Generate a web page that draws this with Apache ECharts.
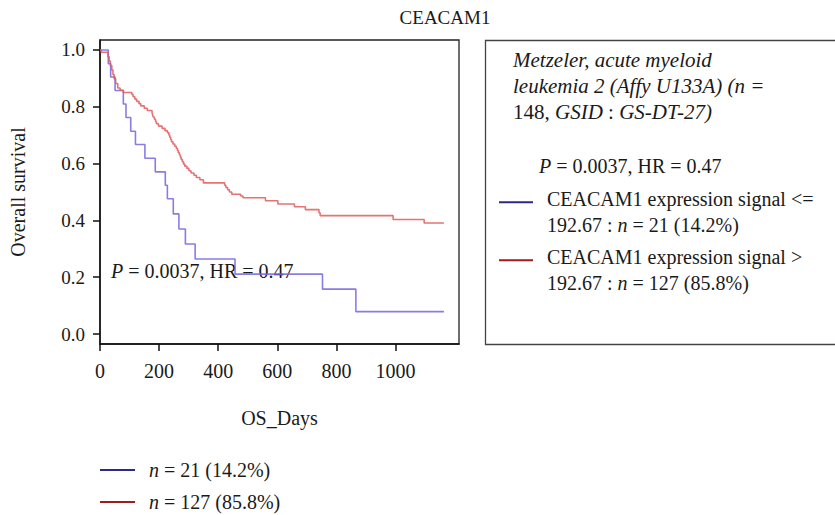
<!DOCTYPE html>
<html>
<head>
<meta charset="utf-8">
<script src="https://cdn.jsdelivr.net/npm/echarts@6/dist/echarts.min.js"></script>
<style>
  html, body { margin: 0; padding: 0; background: #fff; }
  #chart { width: 835px; height: 515px; }
</style>
</head>
<body>
<div id="chart"></div>
<script>
// Kaplan–Meier survival, CEACAM1 expression split at 192.67
const lowDays  = [0, 28, 36, 51, 79, 88, 104, 120, 152, 187, 221, 228, 248, 267, 289, 322, 457, 753, 866, 1164];
const lowSurv  = [1, 0.952, 0.905, 0.857, 0.810, 0.762, 0.714, 0.667, 0.619, 0.571, 0.524, 0.476, 0.423, 0.370, 0.317, 0.264, 0.211, 0.158, 0.079, 0.079];

const highDays = [0, 4, 27, 31, 35, 40, 44, 48, 53, 60, 68, 79, 108, 112, 118, 124, 132, 138, 150, 160,
                  176, 178, 180, 184, 188, 191, 198, 210, 220, 228, 233, 236, 239, 242, 247, 253, 258, 262, 265, 269,
                  272, 275, 279, 283, 287, 294, 301, 308, 318, 326, 338, 350, 422, 426, 432, 438, 446, 476, 484, 560,
                  602, 658, 695, 741, 745, 992, 1097, 1164];
const highSurv = [1, 0.992, 0.976, 0.961, 0.945, 0.929, 0.913, 0.898, 0.882, 0.866, 0.858, 0.850, 0.843, 0.835, 0.827, 0.819, 0.811, 0.803, 0.795, 0.787,
                  0.780, 0.772, 0.764, 0.756, 0.748, 0.740, 0.732, 0.724, 0.716, 0.709, 0.701, 0.693, 0.685, 0.677, 0.669, 0.661, 0.654, 0.646, 0.638, 0.630,
                  0.622, 0.614, 0.606, 0.598, 0.591, 0.583, 0.575, 0.567, 0.559, 0.551, 0.543, 0.532, 0.524, 0.516, 0.508, 0.500, 0.492, 0.486, 0.480, 0.469,
                  0.458, 0.448, 0.438, 0.427, 0.417, 0.403, 0.391, 0.391];

const xTicks = [0, 200, 400, 600, 800, 1000];
const yTicks = [0, 0.2, 0.4, 0.6, 0.8, 1.0];

const lowName  = 'CEACAM1 <= 192.67';
const highName = 'CEACAM1 > 192.67';
const lowBoxText   = 'CEACAM1 expression signal <=\n192.67 : {i|n} = 21 (14.2%)';
const highBoxText  = 'CEACAM1 expression signal >\n192.67 : {i|n} = 127 (85.8%)';
const lowShortText  = '{i|n} = 21 (14.2%)';
const highShortText = '{i|n} = 127 (85.8%)';

const FONT = '"Liberation Serif", "Times New Roman", serif';
const FS = 19;      // axis labels, title
const FT = 20;      // annotations and keys
const FH = 21;      // dataset heading
const INK = '#1a1a1a';

const pairs = (xs, ys) => xs.map((x, i) => [x, ys[i]]);

const chart = echarts.init(document.getElementById('chart'), null, { renderer: 'svg' });

const textBase = { fontFamily: FONT, fontSize: FS, color: INK };
const italic = size => ({ fontFamily: FONT, fontSize: size, fontStyle: 'italic', color: INK, fill: INK });

chart.setOption({
  animation: false,
  backgroundColor: '#fff',
  grid: {
    left: 100, top: 40, width: 359, height: 304,
    show: true, borderColor: '#222', borderWidth: 1.3, backgroundColor: 'transparent'
  },
  xAxis: {
    type: 'value', min: 0, max: 1215,
    name: 'OS_Days', nameLocation: 'middle', nameGap: 64,
    nameTextStyle: { ...textBase, fontSize: FT },
    axisLine: { show: true, onZero: false, lineStyle: { color: '#111', width: 1.5 } },
    axisTick: { show: true, length: 7, customValues: xTicks, lineStyle: { color: '#111', width: 1.5 } },
    axisLabel: { customValues: xTicks, margin: 17, formatter: v => String(v), ...textBase, fontSize: FT },
    splitLine: { show: false }
  },
  yAxis: {
    type: 'value', min: -0.035, max: 1.035,
    name: 'Overall survival', nameLocation: 'middle', nameGap: 72,
    nameTextStyle: { ...textBase, fontSize: FT },
    axisLine: { show: true, onZero: false, lineStyle: { color: '#111', width: 1.5 } },
    axisTick: { show: true, length: 7, customValues: yTicks, lineStyle: { color: '#111', width: 1.5 } },
    axisLabel: { customValues: yTicks, margin: 15, formatter: v => v.toFixed(1), ...textBase },
    splitLine: { show: false }
  },
  legend: [
    {
      // key inside the framed box
      orient: 'vertical', left: 494, top: 181, itemGap: 6, padding: 5,
      itemWidth: 34, itemHeight: 24,
      icon: 'path://M0,0H35V2H0Z M0,22H0.05V22.05H0Z',
      selectedMode: false,
      textStyle: { ...textBase, fontSize: FT, lineHeight: 26, padding: [0, 0, 0, 9], rich: { i: { ...italic(FT), lineHeight: 26 } } },
      formatter: n => (n === lowName ? lowBoxText : highBoxText),
      data: [
        { name: lowName,  itemStyle: { color: '#2d2a87' } },
        { name: highName, itemStyle: { color: '#a11d1d' } }
      ]
    },
    {
      // compact key under the axis
      orient: 'vertical', left: 100, top: 460, height: 60, itemGap: 12, padding: 0,
      itemWidth: 35, itemHeight: 2, icon: 'rect',
      selectedMode: false,
      textStyle: { ...textBase, fontSize: FT, lineHeight: 20, padding: [0, 0, 0, 9], rich: { i: { ...italic(FT), lineHeight: 20 } } },
      formatter: n => (n === lowName ? lowShortText : highShortText),
      data: [
        { name: lowName,  itemStyle: { color: '#2d2a87' } },
        { name: highName, itemStyle: { color: '#a11d1d' } }
      ]
    }
  ],
  series: [
    {
      name: lowName, type: 'line', step: 'end', showSymbol: false, silent: true,
      data: pairs(lowDays, lowSurv),
      itemStyle: { color: '#7366e0' },
      lineStyle: { color: '#7366e0', width: 1.6, opacity: 0.85 }
    },
    {
      name: highName, type: 'line', step: 'end', showSymbol: false, silent: true,
      data: pairs(highDays, highSurv),
      itemStyle: { color: '#e05a5a' },
      lineStyle: { color: '#e05a5a', width: 1.6, opacity: 0.85 }
    }
  ],
  graphic: [
    {
      type: 'text', x: 445, y: 17,
      style: { text: 'CEACAM1', font: `${FS}px ${FONT}`, fill: INK, align: 'center', verticalAlign: 'middle' }
    },
    {
      type: 'text', x: 111, y: 271,
      style: {
        text: '{i|P} = 0.0037, HR = 0.47', font: `${FT}px ${FONT}`, fill: INK,
        verticalAlign: 'middle', rich: { i: italic(FT) }
      }
    },
    {
      type: 'rect', shape: { x: 485.5, y: 40.5, width: 360, height: 304 },
      style: { fill: 'none', stroke: '#444', lineWidth: 1.3 }
    },
    {
      type: 'text', x: 513, y: 47,
      style: {
        text: '{i|Metzeler, acute myeloid}\n{i|leukemia 2 (Affy U133A) (n =}\n{r|148, }{i|GSID} {r|:} {i|GS-DT-27)}',
        font: `${FH}px ${FONT}`, fill: INK, lineHeight: 26,
        rich: {
          i: { ...italic(FH), lineHeight: 26 },
          r: { fontFamily: FONT, fontSize: FH, fill: INK, lineHeight: 26 }
        }
      }
    },
    {
      type: 'text', x: 539, y: 166,
      style: {
        text: '{i|P} = 0.0037, HR = 0.47', font: `${FT}px ${FONT}`, fill: INK,
        verticalAlign: 'middle', rich: { i: italic(FT) }
      }
    }
  ]
});
</script>
</body>
</html>
